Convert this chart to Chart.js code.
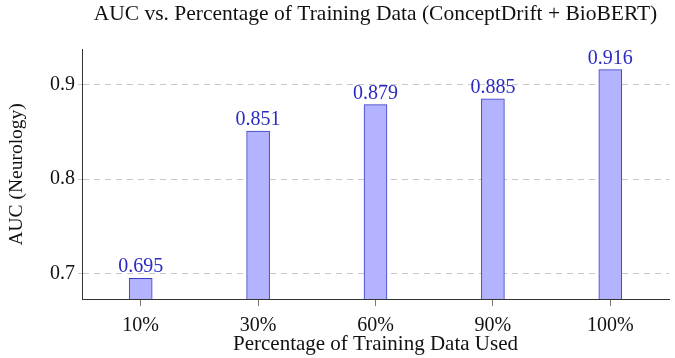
<!DOCTYPE html>
<html>
<head>
<meta charset="utf-8">
<script src="https://cdn.jsdelivr.net/npm/chart.js@4"></script>
<style>
  html, body { margin: 0; padding: 0; background: #fff; }
  #wrap { width: 675px; height: 358px; }
</style>
</head>
<body>
<div id="wrap"><canvas id="chart" width="675" height="358"></canvas></div>
<script>
var categories = ['10%', '30%', '60%', '90%', '100%'];
var aucValues = [0.695, 0.851, 0.879, 0.885, 0.916];
var yTicks = [0.7, 0.8, 0.9];

var serif = '"Liberation Serif", "DejaVu Serif", serif';
var labelColor = '#2a2ac4';

// eigen plugin om de waarden boven de staven te zetten
var valueLabels = {
    id: 'valueLabels',
    afterDatasetsDraw: function (chart) {
        var ctx = chart.ctx;
        var meta = chart.getDatasetMeta(0);
        ctx.save();
        ctx.font = '20px ' + serif;
        ctx.fillStyle = labelColor;
        ctx.textAlign = 'center';
        ctx.textBaseline = 'bottom';
        meta.data.forEach(function (bar, i) {
            ctx.fillText(aucValues[i].toFixed(3), bar.x, bar.y - 1);
        });
        ctx.restore();
    }
};

var chart = new Chart(document.getElementById('chart'), {
    type: 'bar',
    data: {
        labels: categories,
        datasets: [{
            data: aucValues,
            backgroundColor: 'rgb(179,179,255)',
            borderColor: 'rgb(60,60,200)',
            borderWidth: 1,
            barThickness: 23
        }]
    },
    options: {
        responsive: false,
        animation: false,
        layout: { padding: { left: 0, right: 6, top: 0, bottom: 0 } },
        plugins: {
            legend: { display: false },
            tooltip: { enabled: false },
            title: {
                display: true,
                fullSize: false, // centreren boven het plotgebied
                text: 'AUC vs. Percentage of Training Data (ConceptDrift + BioBERT)',
                color: '#111',
                font: { family: serif, size: 21.5, weight: 'normal' },
                padding: { top: 1, bottom: 23 }
            }
        },
        scales: {
            x: {
                // tick streepjes onder het midden van elke staaf
                grid: { offset: false, drawOnChartArea: false, drawTicks: true, tickLength: 7, color: '#777', tickColor: '#777' },
                border: { color: '#333', width: 1 },
                ticks: { color: '#111', font: { family: serif, size: 20 }, padding: 8 },
                title: {
                    display: true,
                    text: 'Percentage of Training Data Used',
                    color: '#111',
                    font: { family: serif, size: 21 },
                    padding: { top: 0, bottom: 1 }
                },
                afterFit: function (scale) { scale.height = 59; }
            },
            y: {
                min: 0.673,
                max: 0.937,
                afterBuildTicks: function (scale) {
                    scale.ticks = yTicks.map(function (v) { return { value: v }; });
                },
                grid: { color: '#c8c8c8', drawTicks: true, tickLength: 4 },
                border: { color: '#333', width: 1, dash: [6, 5] },
                ticks: {
                    color: '#111',
                    font: { family: serif, size: 20 },
                    padding: 3,
                    callback: function (v) { return v.toFixed(1); }
                },
                title: {
                    display: true,
                    text: 'AUC (Neurology)',
                    color: '#111',
                    font: { family: serif, size: 19.5 },
                    padding: { top: 5, bottom: 0 }
                },
                afterFit: function (scale) { scale.width = 82; }
            }
        }
    },
    plugins: [valueLabels]
});
</script>
</body>
</html>
